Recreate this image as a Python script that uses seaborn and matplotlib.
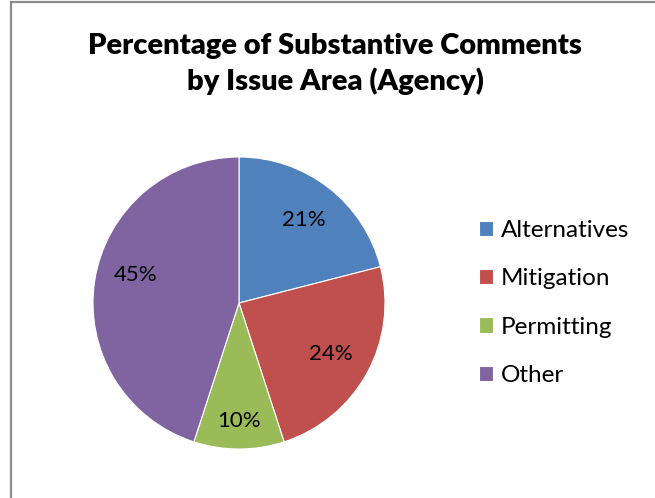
import matplotlib
matplotlib.use("Agg")
import matplotlib.pyplot as plt
import seaborn as sns
import numpy as np
from matplotlib.patches import Rectangle

categories = ["Alternatives", "Mitigation", "Permitting", "Other"]
values = [21, 24, 10, 45]
colors = ["#4F81BD", "#C0504D", "#9BBB59", "#8064A2"]
title = "Percentage of Substantive Comments\nby Issue Area (Agency)"

sns.set_theme(style="white")
plt.rcParams["font.family"] = ["Lato", "DejaVu Sans"]

W, H = 655, 498
fig = plt.figure(figsize=(W / 100, H / 100), dpi=100)
fig.patch.set_facecolor("white")

cx, cy, r = 239, 303, 146
ax = fig.add_axes([(cx - r) / W, (H - cy - r) / H, 2 * r / W, 2 * r / H])

wedges, texts, autotexts = ax.pie(
    values, colors=colors, startangle=90, counterclock=False,
    autopct=lambda p: f"{p:.0f}%", pctdistance=0.72,
    wedgeprops=dict(edgecolor="white", linewidth=0.8),
    textprops=dict(fontsize=16, color="black"),
)
label_dist = [0.72, 0.72, 0.81, 0.73]
label_rot = [0, 0, 0, -6]
for w, t, d, a in zip(wedges, autotexts, label_dist, label_rot):
    ang = np.deg2rad((w.theta1 + w.theta2) / 2 + a)
    t.set_position((d * np.cos(ang), d * np.sin(ang)))
ax.set_xlim(-1, 1)
ax.set_ylim(-1, 1)
ax.set_aspect("equal")
ax.axis("off")

fig.text(335 / W, 1 - 64 / H, title, ha="center", va="center",
         fontsize=21, fontweight="heavy", linespacing=1.35, color="black")

leg = fig.legend(wedges, categories, loc="center left",
                 bbox_to_anchor=(457 / W, 1 - 303 / H),
                 frameon=False, fontsize=17.5, handlelength=0.6, handleheight=0.6,
                 handletextpad=0.3, labelspacing=1.13)
for t in leg.get_texts():
    t.set_color("black")

fig.add_artist(Rectangle((10.5 / W, -0.1), 1.2, (H - 2.5) / H + 0.1,
                         transform=fig.transFigure, fill=False,
                         edgecolor="#8C8C8C", linewidth=1.6))

fig.savefig("out.png", dpi=100)
